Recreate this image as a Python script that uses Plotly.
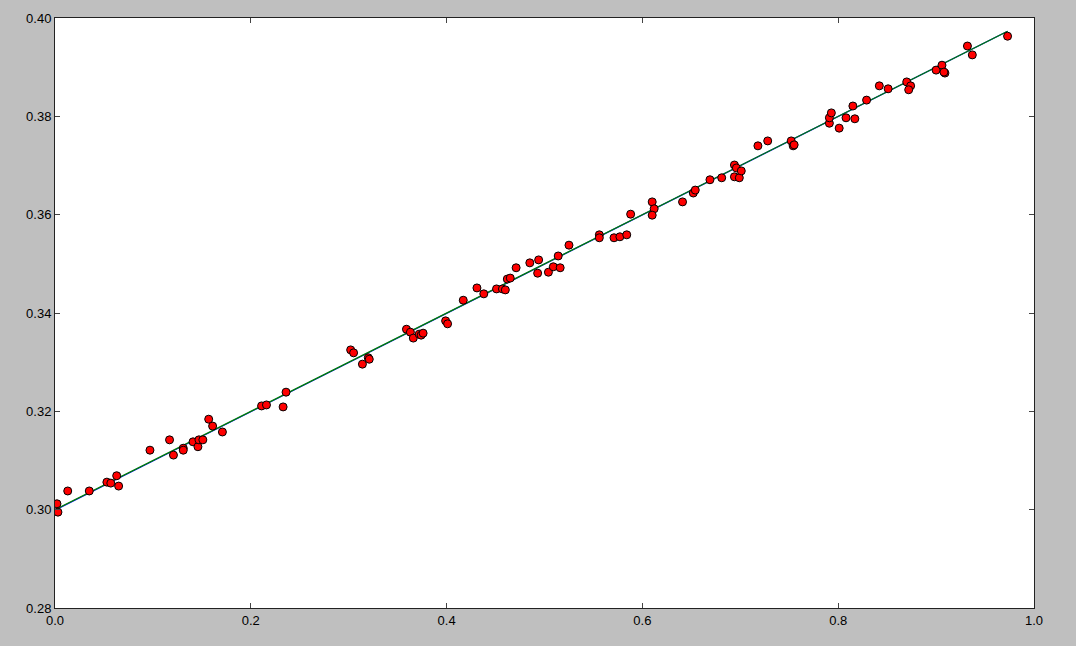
import numpy as np
import plotly.graph_objects as go

x_vals = [0.002, 0.003, 0.013, 0.035, 0.053, 0.057, 0.063, 0.065, 0.097, 0.117,
          0.121, 0.131, 0.131, 0.141, 0.146, 0.147, 0.151, 0.157, 0.161, 0.171,
          0.211, 0.216, 0.233, 0.236, 0.302, 0.305, 0.314, 0.320, 0.321, 0.359,
          0.363, 0.366, 0.372, 0.374, 0.376, 0.399, 0.401, 0.417, 0.431, 0.438,
          0.451, 0.457, 0.460, 0.462, 0.465, 0.471, 0.485, 0.494, 0.493, 0.504,
          0.509, 0.514, 0.516, 0.525, 0.556, 0.556, 0.571, 0.577, 0.584, 0.588,
          0.610, 0.612, 0.610, 0.641, 0.652, 0.654, 0.669, 0.681, 0.694, 0.696,
          0.694, 0.699, 0.701, 0.718, 0.728, 0.752, 0.754, 0.755, 0.791, 0.791,
          0.793, 0.801, 0.808, 0.817, 0.815, 0.829, 0.842, 0.851, 0.870, 0.874,
          0.872, 0.900, 0.906, 0.909, 0.908, 0.932, 0.937, 0.973]
y_vals = [0.3012, 0.2995, 0.3038, 0.3038, 0.3056, 0.3054, 0.3069, 0.3048, 0.3121, 0.3142,
          0.3111, 0.3125, 0.3121, 0.3138, 0.3128, 0.3142, 0.3142, 0.3184, 0.3170, 0.3158,
          0.3211, 0.3213, 0.3209, 0.3239, 0.3325, 0.3319, 0.3296, 0.3309, 0.3306, 0.3367,
          0.3361, 0.3349, 0.3357, 0.3355, 0.3359, 0.3384, 0.3378, 0.3426, 0.3451, 0.3439,
          0.3449, 0.3449, 0.3447, 0.3469, 0.3471, 0.3492, 0.3502, 0.3508, 0.3481, 0.3483,
          0.3494, 0.3516, 0.3492, 0.3538, 0.3559, 0.3553, 0.3553, 0.3555, 0.3559, 0.3601,
          0.3626, 0.3612, 0.3599, 0.3626, 0.3644, 0.3650, 0.3671, 0.3675, 0.3701, 0.3695,
          0.3677, 0.3675, 0.3689, 0.3740, 0.3750, 0.3750, 0.3740, 0.3742, 0.3786, 0.3797,
          0.3807, 0.3776, 0.3797, 0.3795, 0.3821, 0.3833, 0.3862, 0.3856, 0.3870, 0.3862,
          0.3854, 0.3894, 0.3904, 0.3888, 0.3890, 0.3943, 0.3925, 0.3963]

# fitted line (blue) and true model line (green), nearly coincident
fit_x = [0.0, 0.973]
fit_y = [0.2999, 0.3973]
true_x = [0.0, 0.973]
true_y = [0.3000, 0.3973]

fig = go.Figure()
fig.add_trace(go.Scatter(x=fit_x, y=fit_y, mode="lines",
                         line=dict(color="#0000ff", width=1.3), showlegend=False))
fig.add_trace(go.Scatter(x=true_x, y=true_y, mode="lines",
                         line=dict(color="#008000", width=1.3), showlegend=False))
fig.add_trace(go.Scatter(x=x_vals, y=y_vals, mode="markers",
                         marker=dict(color="#ff0000", size=8,
                                     line=dict(color="#000000", width=1)),
                         showlegend=False))

axis_common = dict(showgrid=False, zeroline=False, showline=True,
                   linecolor="#222222", linewidth=1, mirror="ticks",
                   ticks="inside", ticklen=5, tickcolor="#444444",
                   tickfont=dict(family="Liberation Sans, Arial, sans-serif",
                                 size=13, color="#000000"))

fig.update_layout(
    width=1076, height=646,
    paper_bgcolor="#bfbfbf", plot_bgcolor="#ffffff",
    margin=dict(l=55, r=42, t=18, b=38),
    xaxis=dict(range=[0, 1.0], tickvals=[0, 0.2, 0.4, 0.6, 0.8, 1.0],
               tickformat=".1f", **axis_common),
    yaxis=dict(range=[0.28, 0.40], tickvals=[0.28, 0.30, 0.32, 0.34, 0.36, 0.38, 0.40],
               tickformat=".2f", **axis_common),
)

fig.write_html("out.html",
               config={"displayModeBar": False},
               post_script="document.body.style.margin='0';"
                           "document.body.style.padding='0';"
                           "document.body.style.background='#bfbfbf';"
                           "document.body.style.overflow='hidden';")
